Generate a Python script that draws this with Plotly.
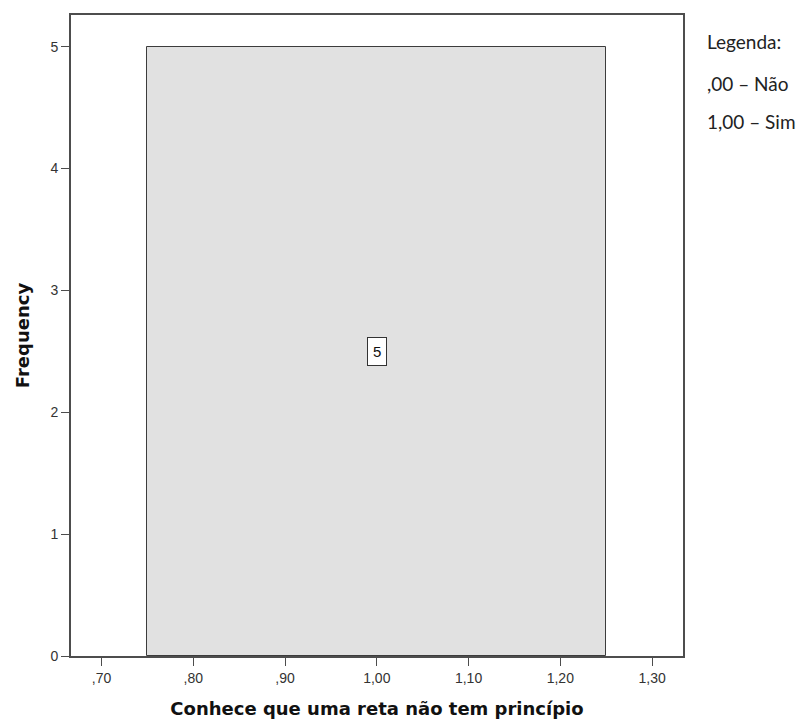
import plotly.graph_objects as go

bin_centers = [1.0]
bin_width = 0.5
frequencies = [5]
x_tick_vals = [0.7, 0.8, 0.9, 1.0, 1.1, 1.2, 1.3]
x_tick_text = [",70", ",80", ",90", "1,00", "1,10", "1,20", "1,30"]
y_tick_vals = [0, 1, 2, 3, 4, 5]
legend_lines = ["Legenda:", ",00 – Não", "1,00 – Sim"]

axis_color = "#4d4d4d"
OFF = 8  # page body margin
W, H = 805 - OFF, 725 - OFF
L, R, T, B = 71 - OFF, 122, 13 - OFF, 69
pw, ph = W - L - R, H - T - B

fig = go.Figure()
fig.add_trace(go.Bar(
    x=bin_centers, y=frequencies, width=[bin_width] * len(bin_centers),
    marker=dict(color="#e1e1e1", line=dict(color="#3c3c3c", width=1)),
    hoverinfo="skip",
))

for xc, f in zip(bin_centers, frequencies):
    fig.add_annotation(
        x=xc, y=f / 2, text=str(f), showarrow=False,
        font=dict(family="Liberation Sans, Arial", size=15, color="#111"),
        bordercolor="#333", borderwidth=1, borderpad=5, bgcolor="white",
    )

legend_y = [40, 82, 120]
for txt, yy in zip(legend_lines, legend_y):
    fig.add_annotation(
        x=(705 - 71) / pw, y=(656 - yy) / ph, xref="paper", yref="paper",
        text=txt, showarrow=False, xanchor="left", yanchor="middle",
        font=dict(family="Lato, Open Sans", size=19, color="#222"),
    )

fig.update_layout(
    width=W, height=H,
    margin=dict(l=L, r=R, t=T, b=B),
    paper_bgcolor="white", plot_bgcolor="white",
    showlegend=False,
    bargap=0,
    xaxis=dict(
        range=[0.6667, 1.3337],
        tickvals=x_tick_vals, ticktext=x_tick_text,
        ticks="outside", ticklen=8, tickcolor=axis_color, tickwidth=1,
        showline=True, linecolor=axis_color, linewidth=2, mirror=True,
        showgrid=False, zeroline=False,
        tickfont=dict(family="Liberation Sans, Arial", size=14, color="#333"),
        title=dict(text="<b>Conhece que uma reta não tem princípio</b>",
                   font=dict(family="DejaVu Sans, Liberation Sans", size=18, color="#111"),
                   standoff=18),
    ),
    yaxis=dict(
        range=[0, 5.26],
        tickvals=y_tick_vals,
        ticks="outside", ticklen=8, tickcolor=axis_color, tickwidth=1,
        showline=True, linecolor=axis_color, linewidth=2, mirror=True,
        showgrid=False, zeroline=False,
        tickfont=dict(family="Liberation Sans, Arial", size=14, color="#333"),
        title=dict(text="<b>Frequency</b>",
                   font=dict(family="DejaVu Sans, Liberation Sans", size=18, color="#111"),
                   standoff=16),
    ),
)

fig.write_html("out.html")
